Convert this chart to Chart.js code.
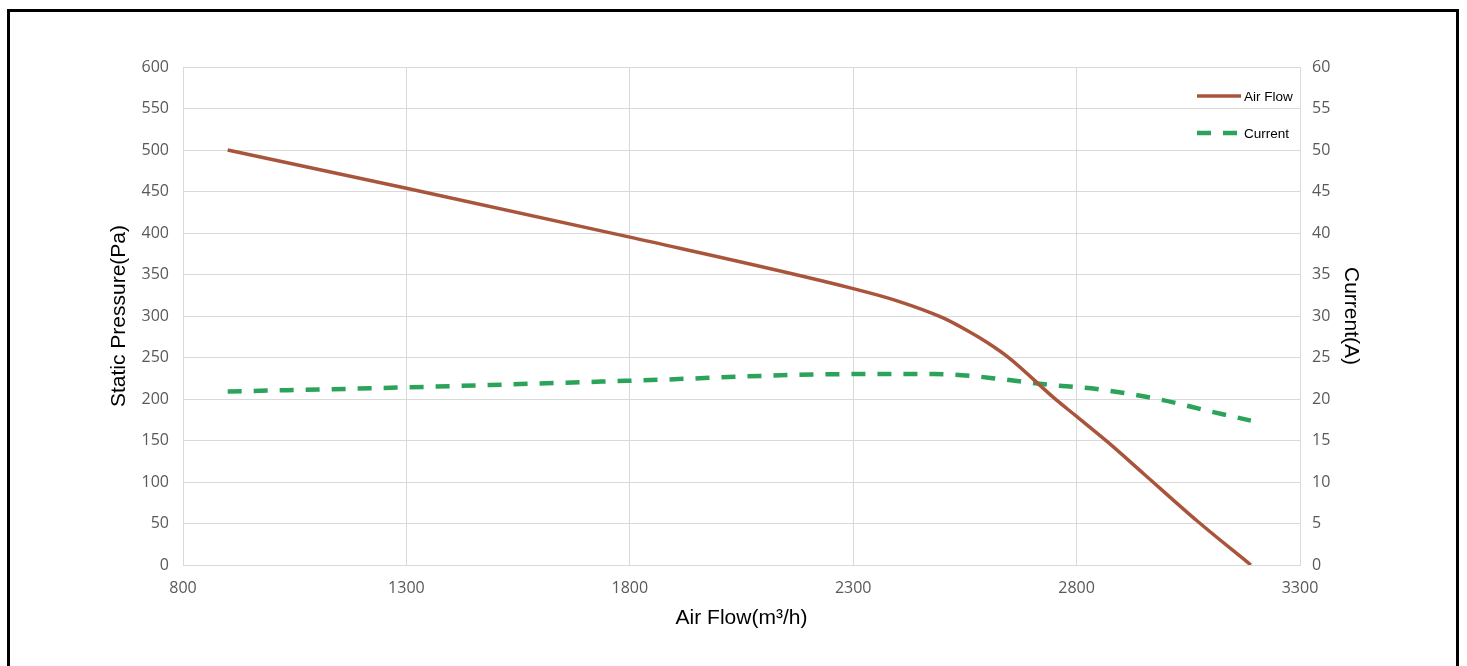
<!DOCTYPE html>
<html>
<head>
<meta charset="utf-8">
<script src="https://cdn.jsdelivr.net/npm/chart.js@4/dist/chart.umd.min.js"></script>
<style>
  html, body { margin: 0; padding: 0; background: #fff; overflow: hidden; }
  #wrap { position: relative; width: 1467px; height: 666px; }
  #frame {
    position: absolute; left: 7px; top: 9px; width: 1452px; height: 700px;
    box-sizing: border-box; border: 3px solid #000; border-bottom: none;
    pointer-events: none;
  }
</style>
</head>
<body>
<div id="wrap">
  <canvas id="fanChart" width="1467" height="666"></canvas>
  <div id="frame"></div>
</div>
<script>
// data
const flowPressure = [900, 1300, 1800, 2300, 2400, 2500, 2560, 2600, 2650, 2750, 2800, 2870, 2950, 3070, 3190];
const pressure     = [500, 454, 395, 333, 318, 298, 281, 268, 249, 201, 179, 148, 110, 53, 0];

const flowCurrent = [900, 1300, 1800, 2300, 2480, 2560, 2630, 2740, 2845, 2990, 3100, 3190];
const current     = [20.9, 21.4, 22.2, 23.0, 23.0, 22.8, 22.4, 21.7, 21.2, 19.9, 18.5, 17.4];

const xTicks = [800, 1300, 1800, 2300, 2800, 3300];
const seriesNames = ['Air Flow', 'Current'];

const tickFont = { family: '"Open Sans", sans-serif', size: 16 };
const titleFont = { family: '"Liberation Sans", Arial, sans-serif', size: 21 };
const gridColor = '#d9d9d9';

// legend drawn by hand, top right inside the plot
const legendPlugin = {
    id: 'cornerLegend',
    afterDatasetsDraw(chart) {
        const c = chart.ctx;
        const rows = [96, 133];
        chart.data.datasets.forEach((ds, i) => {
            const y = rows[i];
            c.save();
            c.strokeStyle = ds.borderColor;
            c.lineWidth = ds.borderWidth;
            c.setLineDash(ds.borderDash || []);
            c.beginPath();
            c.moveTo(1197, y);
            c.lineTo(1241, y);
            c.stroke();
            c.setLineDash([]);
            c.fillStyle = '#000';
            c.font = '13.5px "Liberation Sans", Arial, sans-serif';
            c.textBaseline = 'middle';
            c.fillText(ds.label, 1244, y + 1);
            c.restore();
        });
    }
};

const ctx = document.getElementById('fanChart');

new Chart(ctx, {
    type: 'line',
    data: {
        datasets: [{
            label: seriesNames[0],
            data: flowPressure.map((x, i) => ({ x: x, y: pressure[i] })),
            borderColor: '#A9553B',
            borderWidth: 3.5,
            pointRadius: 0,
            cubicInterpolationMode: 'monotone',
            yAxisID: 'y'
        }, {
            label: seriesNames[1],
            data: flowCurrent.map((x, i) => ({ x: x, y: current[i] })),
            borderColor: '#2BA35A',
            borderWidth: 4.5,
            borderDash: [14, 12],
            pointRadius: 0,
            cubicInterpolationMode: 'monotone',
            yAxisID: 'y1'
        }]
    },
    options: {
        responsive: false,
        animation: false,
        layout: { padding: { left: 0, right: 0, top: 67, bottom: 0 } },
        plugins: {
            legend: { display: false },
            tooltip: { enabled: false }
        },
        scales: {
            x: {
                type: 'linear',
                min: xTicks[0],
                max: xTicks[xTicks.length - 1],
                afterBuildTicks: (scale) => { scale.ticks = xTicks.map(v => ({ value: v })); },
                afterFit: (scale) => { scale.height = 101; },
                grid: { color: gridColor, drawTicks: false },
                border: { color: gridColor },
                ticks: {
                    color: '#595959', font: tickFont, padding: 14, maxRotation: 0,
                    callback: (v) => String(v)
                },
                title: {
                    display: true, text: 'Air Flow(m³/h)', color: '#000', font: titleFont,
                    padding: { top: 0, bottom: 35 }
                }
            },
            y: {
                position: 'left',
                min: 0, max: 600,
                afterFit: (scale) => { scale.width = 183; },
                grid: { color: gridColor, drawTicks: false },
                border: { color: gridColor },
                ticks: { stepSize: 50, color: '#595959', font: tickFont, padding: 14 },
                title: {
                    display: true, text: 'Static Pressure(Pa)', color: '#000', font: titleFont,
                    padding: { top: 107, bottom: 0 }
                }
            },
            y1: {
                position: 'right',
                min: 0, max: 60,
                afterFit: (scale) => { scale.width = 167; },
                grid: { drawOnChartArea: false, drawTicks: false },
                border: { color: gridColor },
                ticks: { stepSize: 5, color: '#595959', font: tickFont, padding: 12 },
                title: {
                    display: true, text: 'Current(A)', color: '#000', font: titleFont,
                    padding: { top: 104, bottom: 0 }
                }
            }
        }
    },
    plugins: [legendPlugin]
});
</script>
</body>
</html>
